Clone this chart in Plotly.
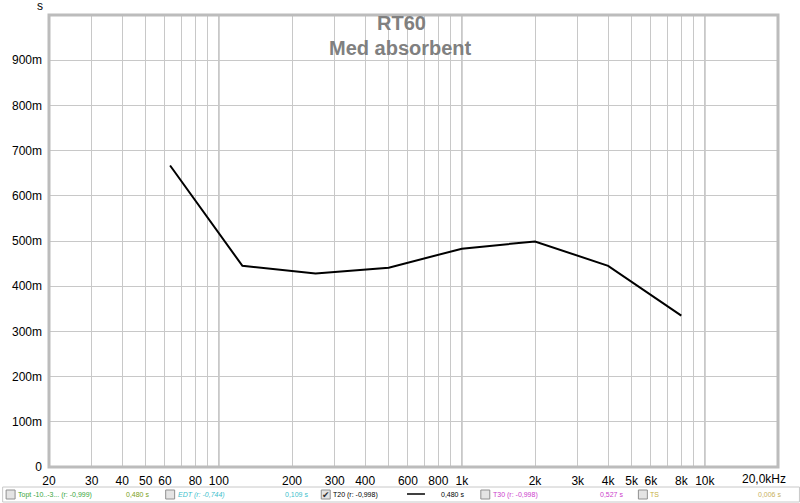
import plotly.graph_objects as go

# ---- data ----
freq_hz = [63, 125, 250, 500, 1000, 2000, 4000, 8000]
t20_s = [0.667, 0.445, 0.428, 0.441, 0.483, 0.499, 0.445, 0.335]

x_grid = [20, 30, 40, 50, 60, 70, 80, 90,
          100, 200, 300, 400, 500, 600, 700, 800, 900,
          1000, 2000, 3000, 4000, 5000, 6000, 7000, 8000, 9000,
          10000, 20000]
x_labels = ["20", "30", "40", "50", "60", "", "80", "",
            "100", "200", "300", "400", "", "600", "", "800", "",
            "1k", "2k", "3k", "4k", "5k", "6k", "", "8k", "",
            "10k", ""]
decades = [100, 1000, 10000]
y_ticks = [0, 0.1, 0.2, 0.3, 0.4, 0.5, 0.6, 0.7, 0.8, 0.9]
y_labels = ["0", "100m", "200m", "300m", "400m", "500m", "600m", "700m", "800m", "900m"]

legend_names = ["Topt -10..-3... (r: -0,999)", "EDT (r: -0,744)", "T20 (r: -0,998)",
                "T30 (r: -0,998)", "TS"]
legend_values = ["0,480 s", "0,109 s", "0,480 s", "0,527 s", "0,006 s"]
legend_colors = ["#3aa63a", "#3cc0cc", "#000000", "#cc3ccc", "#c8b040"]
legend_value_colors = ["#7aa020", "#3cc0cc", "#000000", "#cc3ccc", "#c8b060"]
legend_checked = [False, False, True, False, False]
legend_italic = [False, True, False, False, False]

# ---- layout geometry (page pixels) ----
W, H = 800, 503
PL, PR, PT, PB = 47, 778, 15, 467  # plot area in page pixels
L, T = PL, PT
R, B = W - PR, H - PB
PW, PH = PR - PL, PB - PT


def px(xp):
    return (xp - PL) / PW


def py(yp):
    return (PB - yp) / PH


fig = go.Figure()
fig.add_trace(go.Scatter(x=freq_hz, y=t20_s, mode="lines",
                         line=dict(color="#000000", width=2),
                         showlegend=False, hoverinfo="x+y"))

font = "Arial, Liberation Sans, sans-serif"

fig.update_layout(
    width=W, height=H,
    margin=dict(l=L, r=R, t=T, b=B, pad=0),
    paper_bgcolor="white", plot_bgcolor="white",
    showlegend=False,
    font=dict(family=font, size=12, color="#000000"),
    xaxis=dict(type="log", range=[1.30103, 4.30103],
               tickvals=x_grid, ticktext=x_labels, ticks="",
               showgrid=True, gridcolor="#c8c8c8", gridwidth=1,
               zeroline=False, showline=False,
               tickfont=dict(size=12, family=font), ticklabelstandoff=5),
    yaxis=dict(range=[0, 1], tickvals=y_ticks, ticktext=y_labels, ticks="",
               showgrid=True, gridcolor="#c8c8c8", gridwidth=1,
               zeroline=False, showline=False,
               tickfont=dict(size=12, family=font), ticklabelstandoff=6),
)

shapes = []
# darker decade lines
for d in decades:
    shapes.append(dict(type="line", xref="x", yref="paper", x0=d, x1=d, y0=0, y1=1,
                       line=dict(color="#808080", width=1), layer="below"))
# plot frame
shapes.append(dict(type="rect", xref="paper", yref="paper", x0=0, x1=1, y0=0, y1=1,
                   line=dict(color="#bcbcbc", width=3), layer="above"))
# legend bar
shapes.append(dict(type="rect", xref="paper", yref="paper",
                   x0=px(0.5), x1=px(799.5), y0=py(502), y1=py(487),
                   line=dict(color="#c8c8c8", width=1), fillcolor="white", layer="above"))

annotations = [
    dict(text="<b>RT60</b>", x=px(400), y=py(23), xref="paper", yref="paper",
         showarrow=False, font=dict(size=20, color="#808080", family=font),
         xanchor="center", yanchor="middle"),
    dict(text="<b>Med absorbent</b>", x=px(399), y=py(48), xref="paper", yref="paper",
         showarrow=False, font=dict(size=20, color="#808080", family=font),
         xanchor="center", yanchor="middle"),
    dict(text="s", x=px(38), y=py(6), xref="paper", yref="paper", showarrow=False,
         font=dict(size=12, family=font), xanchor="center", yanchor="middle"),
    dict(text="20,0kHz", x=px(788), y=py(479), xref="paper", yref="paper", showarrow=False,
         font=dict(size=12, family=font), xanchor="right", yanchor="middle"),
]

# legend items
box_x = [4, 164, 320, 480, 638]
for i, name in enumerate(legend_names):
    bx = box_x[i]
    shapes.append(dict(type="rect", xref="paper", yref="paper",
                       x0=px(bx), x1=px(bx + 9), y0=py(499), y1=py(490),
                       line=dict(color="#909090", width=1), fillcolor="#e4e4e4",
                       layer="above"))
    if legend_checked[i]:
        annotations.append(dict(text="✔", x=px(bx + 4.5), y=py(494.5), xref="paper",
                                yref="paper", showarrow=False,
                                font=dict(size=9, color="#303030", family="DejaVu Sans"),
                                xanchor="center", yanchor="middle"))
    txt = f"<i>{name}</i>" if legend_italic[i] else name
    annotations.append(dict(text=txt, x=px(bx + 10), y=py(494.5), xref="paper",
                            yref="paper", showarrow=False,
                            font=dict(size=7, color=legend_colors[i], family=font),
                            xanchor="left", yanchor="middle"))
    annotations.append(dict(text=legend_values[i], x=px(bx + 118), y=py(494.5),
                            xref="paper", yref="paper", showarrow=False,
                            font=dict(size=7, color=legend_value_colors[i], family=font),
                            xanchor="left", yanchor="middle"))
# line sample for T20
shapes.append(dict(type="line", xref="paper", yref="paper", x0=px(406), x1=px(424),
                   y0=py(494), y1=py(494), line=dict(color="#000000", width=1.5),
                   layer="above"))

fig.update_layout(shapes=shapes, annotations=annotations)
fig.write_html("out.html", config={"displayModeBar": False},
               post_script="document.body.style.margin='0';document.body.style.overflow='hidden';")
